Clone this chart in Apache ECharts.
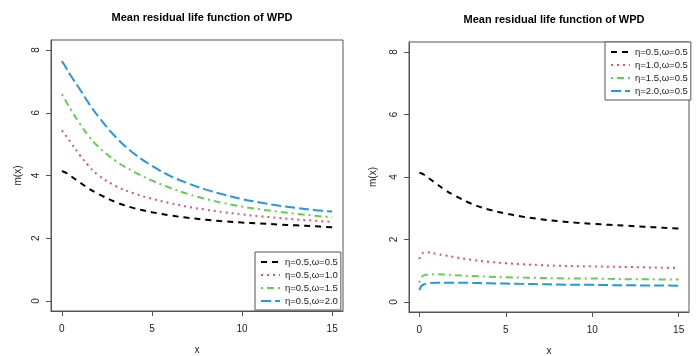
<!DOCTYPE html>
<html>
<head>
<meta charset="utf-8">
<script src="https://cdn.jsdelivr.net/npm/echarts@6/dist/echarts.min.js"></script>
<style>
  html, body { margin: 0; padding: 0; background: #fff; }
  #chart { width: 699px; height: 356px; }
</style>
</head>
<body>
<div id="chart"></div>
<script>
// Evaluation points of x
const xs = [0, 0.1, 0.25, 0.5, 1, 1.5, 2, 3, 4, 5, 6, 7, 8, 9, 10, 11, 12, 13, 14, 15];

// Left panel: eta fixed at 0.5, omega varies
const leftNames = ['η=0.5,ω=0.5', 'η=0.5,ω=1.0', 'η=0.5,ω=1.5', 'η=0.5,ω=2.0'];
const eta05_w05 = [4.14, 4.12, 4.08, 3.98, 3.78, 3.58, 3.42, 3.15, 2.96, 2.83, 2.73, 2.65, 2.59, 2.54, 2.50, 2.47, 2.44, 2.41, 2.38, 2.35];
const eta05_w10 = [5.44, 5.37, 5.25, 5.05, 4.65, 4.30, 4.02, 3.66, 3.43, 3.26, 3.12, 3.00, 2.91, 2.83, 2.76, 2.70, 2.65, 2.60, 2.56, 2.52];
const eta05_w15 = [6.59, 6.50, 6.35, 6.10, 5.65, 5.25, 4.93, 4.46, 4.12, 3.84, 3.61, 3.41, 3.25, 3.12, 3.01, 2.92, 2.85, 2.78, 2.72, 2.67];
const eta05_w20 = [7.65, 7.56, 7.42, 7.18, 6.75, 6.30, 5.90, 5.22, 4.70, 4.31, 3.99, 3.75, 3.55, 3.39, 3.25, 3.14, 3.04, 2.97, 2.90, 2.85];

// Right panel: omega fixed at 0.5, eta varies
const rightNames = ['η=0.5,ω=0.5', 'η=1.0,ω=0.5', 'η=1.5,ω=0.5', 'η=2.0,ω=0.5'];
const eta10_w05 = [1.38, 1.52, 1.58, 1.59, 1.54, 1.49, 1.44, 1.35, 1.29, 1.24, 1.21, 1.18, 1.16, 1.15, 1.14, 1.13, 1.12, 1.11, 1.10, 1.09];
const eta15_w05 = [0.62, 0.78, 0.85, 0.88, 0.89, 0.88, 0.86, 0.83, 0.81, 0.79, 0.78, 0.77, 0.76, 0.75, 0.75, 0.74, 0.73, 0.73, 0.72, 0.72];
const eta20_w05 = [0.38, 0.50, 0.56, 0.60, 0.62, 0.62, 0.62, 0.61, 0.60, 0.59, 0.58, 0.57, 0.56, 0.55, 0.55, 0.54, 0.54, 0.53, 0.53, 0.52];

// Tick labels
const xTicks = [0, 5, 10, 15];
const yTicks = [0, 2, 4, 6, 8];

const titleText = 'Mean residual life function of WPD';

// Line styles: dashed, dotted, dot-dash, long-dash
const colors = ['#000000', '#DF536B', '#61D04F', '#2297E6'];
const dashes = [[6, 5], [2, 4], [2, 4, 7, 4], [10, 4]];

const FONT = '"Liberation Sans", Arial, sans-serif';
const AXIS_COLOR = '#555';

function pairs(ys) { return xs.map((x, i) => [x, ys[i]]); }

function makeSeries(names, data, idx) {
  return names.map((n, i) => ({
    name: n,
    type: 'line',
    xAxisIndex: idx,
    yAxisIndex: idx,
    data: pairs(data[i]),
    showSymbol: false,
    symbol: 'none',
    smooth: 0.4,
    silent: true,
    lineStyle: { color: colors[i], width: 2, type: dashes[i] },
    itemStyle: { color: colors[i] }
  }));
}

function xAxis(idx) {
  return {
    gridIndex: idx, type: 'value', min: -0.6, max: 15.6, position: 'bottom',
    name: 'x', nameLocation: 'middle', nameGap: 34,
    nameTextStyle: { fontFamily: FONT, fontSize: 10, color: '#222' },
    axisLine: { show: true, onZero: false, lineStyle: { color: AXIS_COLOR, width: 1 } },
    axisTick: { show: true, length: 5, inside: false, customValues: xTicks, lineStyle: { color: AXIS_COLOR, width: 1 } },
    axisLabel: { show: true, customValues: xTicks, fontFamily: FONT, fontSize: 10, color: '#222', margin: 13 },
    splitLine: { show: false }
  };
}
function yAxis(idx, gap) {
  return {
    gridIndex: idx, type: 'value', min: -0.32, max: 8.32, position: 'left',
    name: 'm(x)', nameLocation: 'middle', nameGap: gap, nameRotate: 90,
    nameTextStyle: { fontFamily: FONT, fontSize: 10, color: '#222' },
    axisLine: { show: true, onZero: false, lineStyle: { color: AXIS_COLOR, width: 1 } },
    axisTick: { show: true, length: 5, inside: false, customValues: yTicks, lineStyle: { color: AXIS_COLOR, width: 1 } },
    axisLabel: { show: true, customValues: yTicks, rotate: 90, fontFamily: FONT, fontSize: 10, color: '#222', margin: 10 },
    splitLine: { show: false }
  };
}

function legend(names, pos) {
  return Object.assign({
    orient: 'vertical',
    data: names,
    itemWidth: 19, itemHeight: 9, itemGap: 3,
    padding: [5, 3, 4, 5],
    borderColor: AXIS_COLOR, borderWidth: 1, borderRadius: 0,
    backgroundColor: '#fff',
    selectedMode: false,
    itemStyle: { opacity: 0 },
    textStyle: { fontFamily: FONT, fontSize: 9.5, color: '#222' }
  }, pos);
}

const chart = echarts.init(document.getElementById('chart'), null, { renderer: 'canvas' });
chart.setOption({
  animation: false,
  backgroundColor: '#fff',
  title: [
    { text: titleText, left: 197, top: 7, textAlign: 'center',
      textStyle: { fontFamily: FONT, fontSize: 11, fontWeight: 'bold', color: '#000' } },
    { text: titleText, left: 549, top: 9, textAlign: 'center',
      textStyle: { fontFamily: FONT, fontSize: 11, fontWeight: 'bold', color: '#000' } }
  ],
  grid: [
    { left: 51, top: 40, width: 292, height: 271, outerBoundsMode: 'none', containLabel: false,
      show: true, borderColor: AXIS_COLOR, borderWidth: 1, backgroundColor: 'transparent' },
    { left: 409, top: 42, width: 280, height: 270, outerBoundsMode: 'none', containLabel: false,
      show: true, borderColor: AXIS_COLOR, borderWidth: 1, backgroundColor: 'transparent' }
  ],
  xAxis: [xAxis(0), xAxis(1)],
  yAxis: [yAxis(0, 28), yAxis(1, 31)],
  legend: [
    legend(leftNames, { left: 255, top: 252 }),
    legend(rightNames, { left: 605, top: 42 })
  ],
  series: [
    ...makeSeries(leftNames, [eta05_w05, eta05_w10, eta05_w15, eta05_w20], 0),
    ...makeSeries(rightNames, [eta05_w05, eta10_w05, eta15_w05, eta20_w05], 1)
  ]
});
</script>
</body>
</html>
